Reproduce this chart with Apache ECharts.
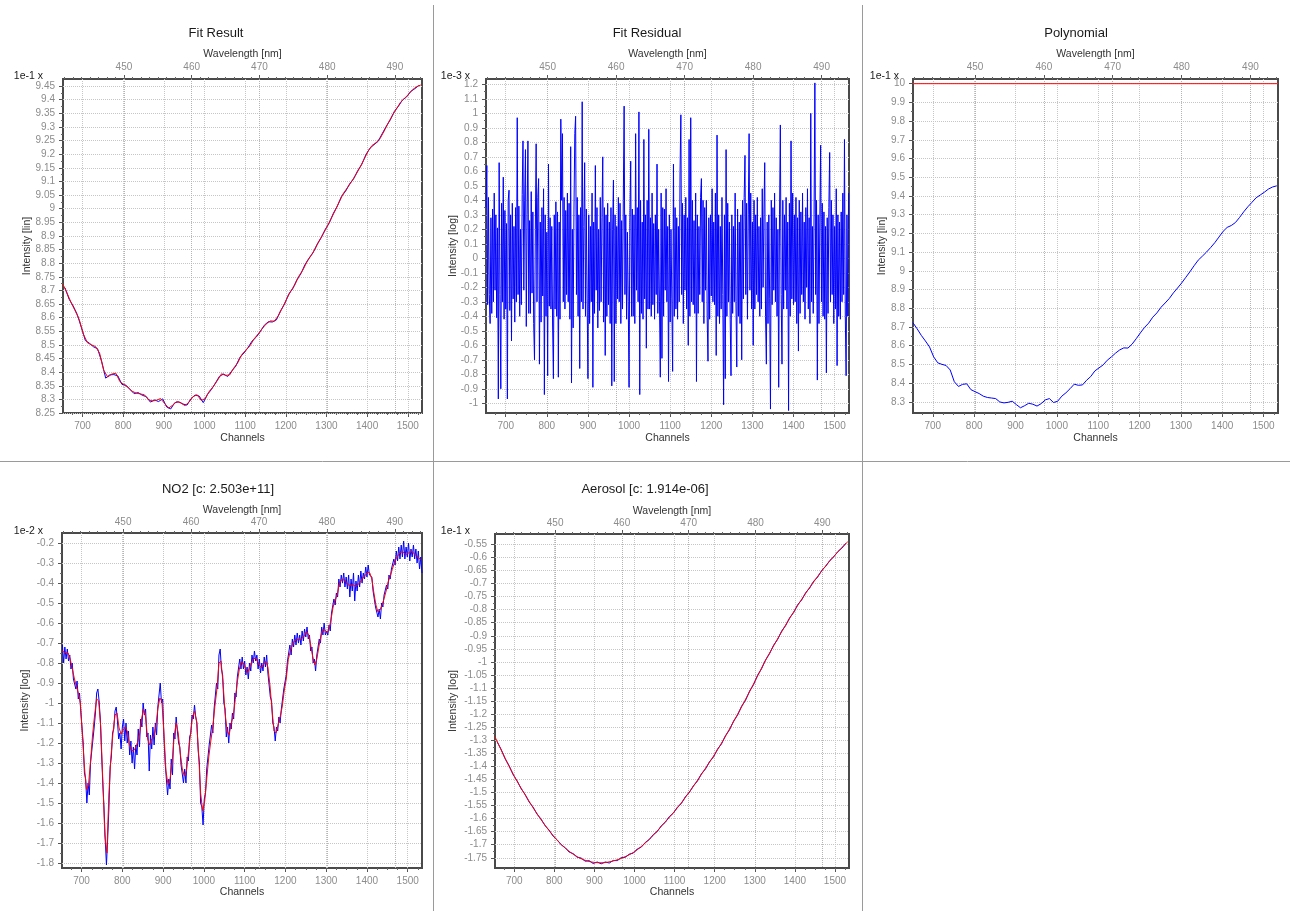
<!DOCTYPE html>
<html>
<head>
<meta charset="utf-8">
<title>DOAS fit</title>
<script src="https://cdn.jsdelivr.net/npm/echarts@6/dist/echarts.min.js"></script>
<style>
  html, body { margin: 0; padding: 0; background: #fff; }
  #chart { width: 1290px; height: 911px; }
</style>
</head>
<body>
<div id="chart"></div>
<script>
  // channel range of every panel and the wavelength at the plot edges
  const chMin = 652, chMax = 1535;
  const wlMin = 441.0, wlMax = 494.0;

  const channelTicks = [700, 800, 900, 1000, 1100, 1200, 1300, 1400, 1500];
  const wavelengthTicks = [450, 460, 470, 480, 490];

  // y tick labels (in the scaled units shown by "1e-n x")
  const fitTicks = [8.25, 8.3, 8.35, 8.4, 8.45, 8.5, 8.55, 8.6, 8.65, 8.7, 8.75, 8.8, 8.85, 8.9, 8.95, 9, 9.05, 9.1, 9.15, 9.2, 9.25, 9.3, 9.35, 9.4, 9.45];
  const residualTicks = [-1, -0.9, -0.8, -0.7, -0.6, -0.5, -0.4, -0.3, -0.2, -0.1, 0, 0.1, 0.2, 0.3, 0.4, 0.5, 0.6, 0.7, 0.8, 0.9, 1, 1.1, 1.2];
  const polyTicks = [8.3, 8.4, 8.5, 8.6, 8.7, 8.8, 8.9, 9, 9.1, 9.2, 9.3, 9.4, 9.5, 9.6, 9.7, 9.8, 9.9, 10];
  const no2Ticks = [-1.8, -1.7, -1.6, -1.5, -1.4, -1.3, -1.2, -1.1, -1, -0.9, -0.8, -0.7, -0.6, -0.5, -0.4, -0.3, -0.2];
  const aerosolTicks = [-1.75, -1.7, -1.65, -1.6, -1.55, -1.5, -1.45, -1.4, -1.35, -1.3, -1.25, -1.2, -1.15, -1.1, -1.05, -1, -0.95, -0.9, -0.85, -0.8, -0.75, -0.7, -0.65, -0.6, -0.55];

  // Fit Result: fitted spectrum (red), channel 652 + 10*i
  const fitStart = 652, fitStep = 10;
  const fitValues = [
    8.722, 8.69, 8.655, 8.625, 8.593, 8.54, 8.508, 8.50, 8.494, 8.47,
    8.407, 8.382, 8.393, 8.396, 8.365, 8.354, 8.344, 8.33, 8.323, 8.32,
    8.317, 8.299, 8.294, 8.297, 8.303, 8.285, 8.268, 8.279, 8.292, 8.287,
    8.277, 8.29, 8.31, 8.317, 8.296, 8.303, 8.33, 8.348, 8.37, 8.394,
    8.388, 8.39, 8.415, 8.435, 8.465, 8.481, 8.497, 8.522, 8.54, 8.56,
    8.577, 8.588, 8.587, 8.608, 8.637, 8.668, 8.697, 8.72, 8.752, 8.775,
    8.805, 8.828, 8.852, 8.882, 8.908, 8.935, 8.965, 8.995, 9.027, 9.057,
    9.078, 9.1, 9.124, 9.15, 9.18, 9.21, 9.232, 9.242, 9.258, 9.285,
    9.315, 9.342, 9.366, 9.39, 9.405, 9.42, 9.437, 9.448, 9.454
  ];
  // Fit Result: measured spectrum (blue), channel 657 + 10*i
  const measStart = 657, measStep = 10;
  const measuredValues = [
    8.709, 8.668, 8.643, 8.612, 8.565, 8.516, 8.506, 8.493, 8.486, 8.44,
    8.378, 8.39, 8.391, 8.386, 8.355, 8.352, 8.336, 8.321, 8.325, 8.315,
    8.31, 8.29, 8.298, 8.292, 8.302, 8.272, 8.265, 8.288, 8.291, 8.283,
    8.279, 8.303, 8.316, 8.312, 8.288, 8.318, 8.336, 8.36, 8.385, 8.393,
    8.384, 8.404, 8.422, 8.454, 8.47, 8.49, 8.514, 8.528, 8.548, 8.572,
    8.585, 8.584, 8.592, 8.625, 8.65, 8.686, 8.706, 8.738, 8.761, 8.794,
    8.818, 8.838, 8.869, 8.893, 8.924, 8.948, 8.983, 9.01, 9.045, 9.064,
    9.091, 9.11, 9.14, 9.163, 9.198, 9.222, 9.235, 9.247, 9.275, 9.302,
    9.326, 9.357, 9.376, 9.399, 9.41, 9.43, 9.44, 9.452
  ];

  // Fit Residual (x 1e-3), channel 652 + 2*i
  const resStart = 652, resStep = 2;
  const residualValues = [
    .35, .64, -.32, .42, -.25, -.45, .28, -.38, .34, -.3, .45, -.22, .3, -.41, .21, -.97, .66, -.25, -.9, .38,
    -.3, .56, -.42, .33, -.35, .24, -.97, .4, .47, -.36, .3, -.57, .38, -.28, .22, -.44, .35, -.3, .97, -.25,
    .36, -.4, .2, -.32, .44, .81, -.22, .4, .75, -.47, .3, .81, -.38, .26, -.38, .46, -.24, .32, -.45, -.7,
    .2, .79, -.3, .42, .55, -.73, .25, -.44, .35, -.26, .48, -.94, .3, -.4, .18, -.81, .65, -.33, .28, -.35,
    .22, -.46, -.83, .3, -.35, .39, -.4, .32, -.82, .25, -.42, .96, .4, .86, -.3, .42, -.35, .33, -.25, .45,
    -.3, .38, -.42, .77, -.86, .2, -.48, .34, .86, .98, -.25, .42, -.4, .3, -.76, .35, -.3, 1.08, -.35, .22,
    .66, -.4, .34, -.28, -.83, .3, -.45, .22, -.3, .45, -.89, .25, -.38, .64, -.22, .35, -.48, .2, -.36, .42,
    -.3, .28, .7, -.44, .35, -.67, .3, -.4, .38, -.32, .25, -.45, .35, -.88, .2, .54, -.85, .3, -.45, .22,
    -.28, .42, -.3, .38, -.45, .26, -.35, .4, 1.05, -.25, .3, -.42, .18, -.3, -.89, .28, .67, -.4, .34, -.4,
    .3, -.45, .86, -.22, .35, -.3, 1.01, -.94, .4, -.38, .25, -.42, .82, -.28, .3, -.62, .4, -.35, .89, -.35,
    .28, -.4, .45, -.32, .24, -.42, .3, -.25, .65, -.38, .2, -.3, -.82, .45, -.69, .35, -.4, .34, -.22, .48,
    -.3, .22, -.85, .3, -.44, .2, -.28, -.78, .65, -.4, .35, -.35, .28, -.42, .22, -.3, .6, .99, -.25, .38,
    -.45, .3, -.22, .42, -.35, .28, -.6, .82, -.4, .97, -.3, .4, -.32, .26, -.38, .45, -.85, .3, -.38, .22,
    -.25, .42, .55, -.3, .4, -.45, .35, -.22, .4, -.4, -.71, .28, -.42, .3, -.26, .48, -.3, .25, -.32, .45,
    -.67, .85, -.4, .3, -.45, .22, -.35, .42, -.25, -1.01, .3, -.83, .75, -.4, .38, -.3, .25, -.42, -.81, .3,
    -.38, .22, -.3, .45, -.3, -.75, .34, -.4, .25, -.45, .3, -.7, .4, -.28, .42, .71, -.25, .38, -.42, .3,
    .86, -.22, .45, -.35, .25, -.6, .4, -.35, .3, -.25, .42, -.3, .22, -.4, .28, -.35, .48, -.2, .3, .66,
    -.4, -.73, .25, -.45, .3, -.28, -1.04, .4, -.32, .35, -.22, .45, -.3, .28, -.4, .2, -.89, .3, .92, -.25,
    -.73, .4, -.35, .3, -.22, .42, -.35, .25, -1.05, .38, -.4, .81, -.28, .45, -.32, .3, -.3, .42, -.45, .28,
    -.64, .4, -.38, .32, -.25, .45, -.3, .25, -.42, .35, -.2, .48, -.35, .28, -.45, 1.0, -.3, .22, -.38, .3,
    1.21, -.25, .4, -.84, .3, -.45, .25, .78, -.3, .38, -.4, .32, -.42, .22, -.79, .28, -.38, .35, .73, -.3,
    .4, -.25, .3, -.45, .22, -.35, .48, -.74, .3, -.4, .25, -.42, .32, -.3, .45, -.25, .82, -.4, -.81, .3,
    -.4, .45
  ];

  // Polynomial (x 1e-1): same curve as the fit, reference line at 10
  const polyValues = fitValues;
  const polyRefChannels = [652, 1535];
  const polyRefValues = [10, 10];

  // NO2 (x 1e-2): fitted cross section (red), channel 652 + 5*i
  const no2FitStart = 652, no2FitStep = 5;
  const no2FitValues = [
    -0.74, -0.745, -0.75, -0.75, -0.78, -0.825, -0.875, -0.915, -0.95, -1.0, -1.16, -1.32, -1.433, -1.41, -1.29, -1.16, -1.06, -0.98, -0.99, -1.12,
    -1.38, -1.66, -1.75, -1.46, -1.27, -1.15, -1.06, -1.05, -1.125, -1.155, -1.135, -1.12, -1.14, -1.205, -1.235, -1.24, -1.225, -1.2, -1.16, -1.08,
    -1.03, -1.07, -1.18, -1.21, -1.18, -1.17, -1.12, -1.03, -0.975, -0.99, -1.15, -1.34, -1.408, -1.38, -1.30, -1.17, -1.10, -1.15, -1.25, -1.33,
    -1.365, -1.34, -1.25, -1.16, -1.07, -1.04, -1.09, -1.25, -1.45, -1.54, -1.49, -1.38, -1.27, -1.19, -1.117, -1.017, -0.93, -0.80, -0.79, -0.90,
    -1.05, -1.14, -1.16, -1.10, -1.067, -0.983, -0.895, -0.83, -0.795, -0.80, -0.825, -0.85, -0.826, -0.795, -0.78, -0.775, -0.795, -0.815, -0.822, -0.805,
    -0.792, -0.82, -0.91, -1.03, -1.14, -1.15, -1.11, -1.07, -1.02, -0.94, -0.88, -0.783, -0.74, -0.71, -0.69, -0.684, -0.683, -0.683, -0.675, -0.662,
    -0.642, -0.66, -0.71, -0.77, -0.81, -0.78, -0.72, -0.665, -0.633, -0.635, -0.648, -0.63, -0.58, -0.52, -0.485, -0.46, -0.405, -0.385, -0.382, -0.395,
    -0.405, -0.413, -0.41, -0.41, -0.417, -0.41, -0.40, -0.385, -0.37, -0.358, -0.345, -0.35, -0.38, -0.45, -0.51, -0.545, -0.535, -0.51, -0.478, -0.44,
    -0.395, -0.365, -0.333, -0.30, -0.277, -0.26, -0.248, -0.243, -0.253, -0.258, -0.25, -0.243, -0.245, -0.256, -0.265, -0.276, -0.282
  ];
  // NO2: measured optical depth (blue), channel 653 + 3*i
  const no2MeasStart = 653, no2MeasStep = 3;
  const no2MeasValues = [
    -0.71, -0.80, -0.72, -0.78, -0.73, -0.79, -0.76, -0.83, -0.80, -0.88, -0.87, -0.93, -0.89, -0.98, -0.95, -1.04, -1.12,
    -1.20, -1.35, -1.38, -1.50, -1.40, -1.46, -1.30, -1.24, -1.18, -1.12, -1.05, -0.95, -0.93, -0.99, -1.08, -1.25, -1.40, -1.52, -1.68, -1.81,
    -1.68, -1.53, -1.32, -1.27, -1.15, -1.13, -1.04, -1.02, -1.09, -1.18, -1.15, -1.23, -1.12,
    -1.08, -1.19, -1.10, -1.20, -1.14, -1.26, -1.19, -1.30, -1.22, -1.33, -1.21, -1.26, -1.13, -1.22, -1.08, -1.12, -1.00, -1.06, -1.03, -1.17,
    -1.15, -1.34, -1.16, -1.23, -1.12, -1.21, -1.10, -1.16, -1.02, -1.01, -0.90, -1.00, -0.98,
    -1.17, -1.30, -1.38, -1.46, -1.38, -1.43, -1.28, -1.36, -1.15, -1.18, -1.07, -1.14, -1.20,
    -1.22, -1.31, -1.30, -1.40, -1.33, -1.40, -1.27, -1.29, -1.17, -1.15, -1.06, -1.08, -1.01, -1.07, -1.10, -1.24, -1.30, -1.50, -1.52, -1.61, -1.48,
    -1.45, -1.33, -1.32, -1.21, -1.22, -1.11, -1.15, -1.03, -1.02, -0.90, -0.93, -0.76, -0.73, -0.83, -0.86, -1.0,
    -1.03, -1.17, -1.12, -1.20, -1.10, -1.13, -1.05, -1.08, -0.95, -0.97, -0.87, -0.88, -0.78, -0.83, -0.77, -0.83, -0.79,
    -0.86, -0.82, -0.88, -0.80, -0.84, -0.76, -0.80, -0.74, -0.79, -0.76, -0.83, -0.78, -0.85, -0.80, -0.84, -0.77, -0.82, -0.76, -0.85, -0.84,
    -0.97, -0.99, -1.10, -1.12, -1.19, -1.12, -1.14, -1.07, -1.10, -1.03, -1.04, -0.93, -0.92,
    -0.86, -0.79, -0.80, -0.71, -0.76, -0.68, -0.72, -0.66, -0.71, -0.65, -0.70, -0.66, -0.71, -0.64, -0.69, -0.63, -0.67, -0.62, -0.68, -0.66, -0.74,
    -0.72, -0.80, -0.78, -0.84, -0.76, -0.77, -0.68, -0.70, -0.62, -0.66, -0.60, -0.66, -0.64,
    -0.66, -0.61, -0.64, -0.55, -0.55, -0.48, -0.51, -0.45, -0.47, -0.38, -0.42, -0.36, -0.40, -0.35, -0.42, -0.37,
    -0.43, -0.36, -0.47, -0.38, -0.44, -0.35, -0.49, -0.39, -0.44, -0.36, -0.42, -0.34, -0.40, -0.35, -0.38, -0.32, -0.37, -0.31, -0.36, -0.35,
    -0.37, -0.44, -0.45, -0.52, -0.51, -0.57, -0.53, -0.58, -0.50, -0.52, -0.46, -0.47, -0.41, -0.43, -0.36, -0.38, -0.33,
    -0.34, -0.28, -0.31, -0.24, -0.29, -0.22, -0.28, -0.21, -0.27, -0.19, -0.28, -0.22, -0.27, -0.20, -0.29, -0.23, -0.27, -0.21, -0.28, -0.23, -0.30, -0.24, -0.33, -0.27, -0.35
  ];

  // Aerosol (x 1e-1): fit (red), channel 652 + 10*i
  const aerFitStart = 652, aerFitStep = 10;
  const aerFitValues = [
    -1.287, -1.320, -1.352, -1.384, -1.414, -1.443, -1.470, -1.496, -1.521, -1.546,
    -1.570, -1.593, -1.615, -1.636, -1.656, -1.674, -1.691, -1.706, -1.719, -1.731,
    -1.741, -1.750, -1.757, -1.762, -1.766, -1.768, -1.769, -1.769, -1.767, -1.764,
    -1.760, -1.755, -1.749, -1.742, -1.734, -1.725, -1.713, -1.700, -1.686, -1.671,
    -1.655, -1.638, -1.620, -1.603, -1.586, -1.568, -1.549, -1.529, -1.508, -1.487,
    -1.465, -1.442, -1.419, -1.396, -1.373, -1.349, -1.324, -1.298, -1.271, -1.243,
    -1.215, -1.187, -1.158, -1.129, -1.099, -1.069, -1.039, -1.008, -0.980, -0.952,
    -0.925, -0.898, -0.872, -0.846, -0.821, -0.796, -0.772, -0.749, -0.726, -0.704,
    -0.683, -0.662, -0.642, -0.623, -0.605, -0.588, -0.571, -0.555, -0.540
  ];
  // Aerosol: measured (blue), channel 657 + 10*i
  const aerMeasStart = 657, aerMeasStep = 10;
  const aerMeasValues = [
    -1.305, -1.334, -1.370, -1.397, -1.431, -1.455, -1.485, -1.507, -1.536, -1.556,
    -1.583, -1.602, -1.627, -1.644, -1.667, -1.681, -1.700, -1.711, -1.728, -1.734,
    -1.748, -1.751, -1.763, -1.761, -1.772, -1.766, -1.773, -1.766, -1.770, -1.760,
    -1.761, -1.749, -1.748, -1.736, -1.732, -1.716, -1.709, -1.691, -1.680, -1.661,
    -1.649, -1.627, -1.614, -1.592, -1.579, -1.556, -1.542, -1.516, -1.499, -1.474,
    -1.456, -1.428, -1.410, -1.382, -1.364, -1.334, -1.314, -1.282, -1.260, -1.227,
    -1.204, -1.170, -1.147, -1.112, -1.087, -1.051, -1.026, -0.992, -0.968, -0.936,
    -0.914, -0.882, -0.861, -0.831, -0.811, -0.781, -0.763, -0.735, -0.717, -0.691,
    -0.675, -0.650, -0.634, -0.612, -0.598, -0.578, -0.565, -0.546
  ];

  function toPairs(start, step, values) {
    return values.map((v, i) => [start + i * step, v]);
  }

  const BLUE = '#0000ff', RED = '#ff0000';
  const FONT = '"Liberation Sans", Arial, sans-serif';

  const panels = [
    {
      title: 'Fit Result', titleX: 216, titleY: 33, scale: '1e-1 x', scaleX: 43, scaleY: 76,
      left: 63, top: 79, width: 359, height: 334, yMin: 8.25, yMax: 9.476, yTicks: fitTicks,
      yName: 'Intensity [lin]', yGap: 30, topGap: 19, topMargin: 7, chGap: 20,
      lines: [
        { data: toPairs(measStart, measStep, measuredValues), color: BLUE },
        { data: toPairs(fitStart, fitStep, fitValues), color: RED }
      ]
    },
    {
      title: 'Fit Residual', titleX: 647, titleY: 33, scale: '1e-3 x', scaleX: 470, scaleY: 76,
      left: 486, top: 79, width: 363, height: 334, yMin: -1.067, yMax: 1.237, yTicks: residualTicks,
      yName: 'Intensity [log]', yGap: 27, topGap: 19, topMargin: 7, chGap: 20,
      lines: [
        { data: toPairs(resStart, resStep, residualValues), color: BLUE }
      ]
    },
    {
      title: 'Polynomial', titleX: 1076, titleY: 33, scale: '1e-1 x', scaleX: 899, scaleY: 76,
      left: 913, top: 79, width: 365, height: 334, yMin: 8.24, yMax: 10.025, yTicks: polyTicks,
      yName: 'Intensity [lin]', yGap: 25, topGap: 19, topMargin: 7, chGap: 20,
      lines: [
        { data: toPairs(fitStart, fitStep, polyValues), color: BLUE },
        { data: polyRefChannels.map((c, i) => [c, polyRefValues[i]]), color: RED }
      ]
    },
    {
      title: 'NO2 [c: 2.503e+11]', titleX: 218, titleY: 489, scale: '1e-2 x', scaleX: 43, scaleY: 531,
      left: 62, top: 533, width: 360, height: 335, yMin: -1.825, yMax: -0.15, yTicks: no2Ticks,
      yName: 'Intensity [log]', yGap: 31, topGap: 17, topMargin: 6, chGap: 19,
      lines: [
        { data: toPairs(no2MeasStart, no2MeasStep, no2MeasValues), color: BLUE },
        { data: toPairs(no2FitStart, no2FitStep, no2FitValues), color: RED }
      ]
    },
    {
      title: 'Aerosol [c: 1.914e-06]', titleX: 645, titleY: 489, scale: '1e-1 x', scaleX: 470, scaleY: 531,
      left: 495, top: 534, width: 354, height: 334, yMin: -1.789, yMax: -0.5105, yTicks: aerosolTicks,
      yName: 'Intensity [log]', yGap: 36, topGap: 17, topMargin: 6, chGap: 19,
      lines: [
        { data: toPairs(aerMeasStart, aerMeasStep, aerMeasValues), color: BLUE },
        { data: toPairs(aerFitStart, aerFitStep, aerFitValues), color: RED }
      ]
    }
  ];

  // small tick positions between the labelled ones
  function steps(from, to, step) {
    const out = [];
    for (let v = from; v <= to + 1e-9; v += step) out.push(+v.toFixed(4));
    return out;
  }
  function halfSteps(ticks) {
    const out = [];
    for (let i = 0; i < ticks.length - 1; i++) out.push((ticks[i] + ticks[i + 1]) / 2);
    return out;
  }
  const chMinor = steps(675, 1525, 25);
  const wlMinor = steps(441.25, 493.75, 1.25);

  const fmt = v => String(+(+v).toFixed(3));
  const tickLabel = { color: '#8c8c8c', fontSize: 10, fontFamily: FONT };
  const nameStyle = { color: '#333', fontSize: 10.5, fontFamily: FONT };
  const gridLine = { show: true, lineStyle: { color: '#c6c6c6', type: 'dotted', width: 1 } };
  const noLine = { show: false, onZero: false };

  function minorAxis(g, position, min, max, values) {
    return {
      gridIndex: g, type: 'value', position: position, min: min, max: max,
      axisLine: noLine, axisLabel: { show: false }, splitLine: { show: false },
      axisTick: { show: true, customValues: values, length: 2, lineStyle: { color: '#666' } }
    };
  }

  const grids = [], xAxes = [], yAxes = [], series = [], graphics = [];

  panels.forEach((p, g) => {
    grids.push({
      left: p.left, top: p.top, width: p.width, height: p.height,
      show: true, backgroundColor: '#fff', borderColor: '#4a4a4a', borderWidth: 2,
      outerBoundsMode: 'none'
    });

    const bx = xAxes.length;
    xAxes.push({
      gridIndex: g, type: 'value', position: 'bottom', min: chMin, max: chMax,
      name: 'Channels', nameLocation: 'middle', nameGap: p.chGap, nameTextStyle: nameStyle, nameMoveOverlap: false,
      axisLine: noLine,
      axisTick: { show: true, customValues: channelTicks, length: 4, lineStyle: { color: '#555' } },
      axisLabel: Object.assign({ customValues: channelTicks, margin: 8, formatter: fmt }, tickLabel),
      splitLine: gridLine
    });
    xAxes.push(minorAxis(g, 'bottom', chMin, chMax, chMinor));
    xAxes.push({
      gridIndex: g, type: 'value', position: 'top', min: wlMin, max: wlMax,
      name: 'Wavelength [nm]', nameLocation: 'middle', nameGap: p.topGap, nameTextStyle: nameStyle, nameMoveOverlap: false,
      axisLine: noLine,
      axisTick: { show: true, customValues: wavelengthTicks, length: 4, lineStyle: { color: '#555' } },
      axisLabel: Object.assign({ customValues: wavelengthTicks, margin: p.topMargin, formatter: fmt }, tickLabel),
      splitLine: { show: true, lineStyle: { color: '#b4b4b4', type: 'dotted', width: 1 } }
    });
    xAxes.push(minorAxis(g, 'top', wlMin, wlMax, wlMinor));

    const ly = yAxes.length;
    yAxes.push({
      gridIndex: g, type: 'value', position: 'left', min: p.yMin, max: p.yMax,
      name: p.yName, nameLocation: 'middle', nameGap: p.yGap, nameRotate: 90, nameTextStyle: nameStyle, nameMoveOverlap: false,
      axisLine: noLine,
      axisTick: { show: true, customValues: p.yTicks, length: 4, lineStyle: { color: '#555' } },
      axisLabel: Object.assign({ customValues: p.yTicks, margin: 8, formatter: fmt }, tickLabel),
      splitLine: gridLine
    });
    yAxes.push(minorAxis(g, 'left', p.yMin, p.yMax, halfSteps(p.yTicks)));

    p.lines.forEach(l => {
      series.push({
        type: 'line', xAxisIndex: bx, yAxisIndex: ly, data: l.data,
        symbol: 'none', showSymbol: false, silent: true, clip: true,
        lineStyle: { color: l.color, width: 1 }
      });
    });

    graphics.push({
      type: 'text', x: p.titleX, y: p.titleY, silent: true,
      style: { text: p.title, fill: '#1a1a1a', font: '13px ' + FONT, align: 'center', verticalAlign: 'middle' }
    });
    graphics.push({
      type: 'text', x: p.scaleX, y: p.scaleY, silent: true,
      style: { text: p.scale, fill: '#1a1a1a', font: '10.5px ' + FONT, align: 'right', verticalAlign: 'middle' }
    });
  });

  // panel separators
  const sep = { stroke: '#9a9a9a', lineWidth: 1 };
  graphics.push({ type: 'line', silent: true, shape: { x1: 433.5, y1: 5, x2: 433.5, y2: 911 }, style: sep });
  graphics.push({ type: 'line', silent: true, shape: { x1: 862.5, y1: 5, x2: 862.5, y2: 911 }, style: sep });
  graphics.push({ type: 'line', silent: true, shape: { x1: 0, y1: 461.5, x2: 1290, y2: 461.5 }, style: sep });

  const chart = echarts.init(document.getElementById('chart'));
  chart.setOption({
    animation: false,
    backgroundColor: '#fff',
    grid: grids,
    xAxis: xAxes,
    yAxis: yAxes,
    series: series,
    graphic: graphics
  });
</script>
</body>
</html>
